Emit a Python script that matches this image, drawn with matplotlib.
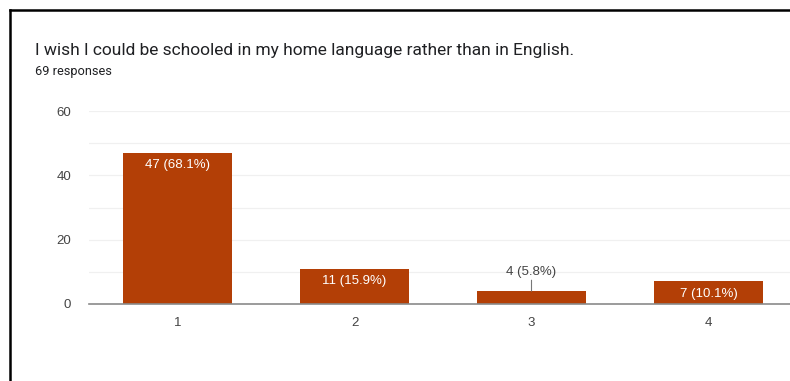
import matplotlib
matplotlib.use("Agg")
import matplotlib.pyplot as plt
from matplotlib.lines import Line2D

plt.rcParams['font.family'] = ['Roboto', 'DejaVu Sans']

# Survey data
categories = ["1", "2", "3", "4"]
counts = [47, 11, 4, 7]
total_responses = 69
title = "I wish I could be schooled in my home language rather than in English."
subtitle = f"{total_responses} responses"
y_ticks = [0, 20, 40, 60]

W, H = 790, 381
fig = plt.figure(figsize=(W / 100, H / 100), dpi=100)

# Axes in pixel geometry: left 89, right 797, top 111, bottom 304
left, right, top, bottom = 89, 797, 111, 304
ax = fig.add_axes([left / W, 1 - bottom / H, (right - left) / W, (bottom - top) / H])

chart_font = ['Liberation Sans', 'DejaVu Sans']
text_grey = "#444444"

bar_color = "#b33f06"
positions = list(range(1, len(categories) + 1))
bars = ax.bar(positions, counts, width=0.62, color=bar_color, zorder=3)

ax.set_xlim(0.5, 4.5)
ax.set_ylim(0, 60)
ax.set_yticks(y_ticks)
ax.set_yticks(range(0, 61, 10), minor=True)
ax.set_xticks(positions)
ax.set_xticklabels(categories)
ax.grid(axis="y", which="both", color="#f0f0f0", linewidth=0.9, zorder=0)
ax.tick_params(axis="both", which="both", length=0, labelsize=9.5, colors=text_grey)
ax.tick_params(axis="y", pad=13)
ax.tick_params(axis="x", pad=9)
for lbl in ax.get_xticklabels() + ax.get_yticklabels():
    lbl.set_family(chart_font)
for s in ["top", "right", "left"]:
    ax.spines[s].set_visible(False)
ax.spines["bottom"].set_color("#8a8a8a")
ax.spines["bottom"].set_linewidth(1.2)
ax.spines["bottom"].set_zorder(4)

# Value labels: inside the bar when it is tall enough, otherwise above with a leader
for pos, c in zip(positions, counts):
    label = f"{c} ({c / total_responses * 100:.1f}%)"
    if c >= 6:
        ax.annotate(label, (pos, c), xytext=(0, -9), textcoords="offset points",
                    ha="center", va="center", color="white", fontsize=9.5,
                    family=chart_font, zorder=5)
    else:
        ax.annotate(label, (pos, c), xytext=(0, 14), textcoords="offset points",
                    ha="center", va="center", color=text_grey, fontsize=9.5,
                    family=chart_font, zorder=5)
        ax.annotate("", (pos, c), xytext=(pos, c + 3.4), textcoords="data",
                    arrowprops=dict(arrowstyle="-", color="#777777", lw=0.8,
                                    shrinkA=0, shrinkB=0), zorder=5)

fig.text(35 / W, 1 - 50 / H, title, fontsize=12.5, color="#202124", va="center", ha="left")
fig.text(35 / W, 1 - 71 / H, subtitle, fontsize=9.2, color="#202124", va="center", ha="left")

# Black frame lines on top and left
fig.add_artist(Line2D([9.5 / W, 1], [1 - 9.5 / H, 1 - 9.5 / H], color="black", linewidth=1.8))
fig.add_artist(Line2D([9.5 / W, 9.5 / W], [0, 1 - 9.5 / H], color="black", linewidth=1.8))

fig.savefig("out.png", dpi=100, facecolor="white")
